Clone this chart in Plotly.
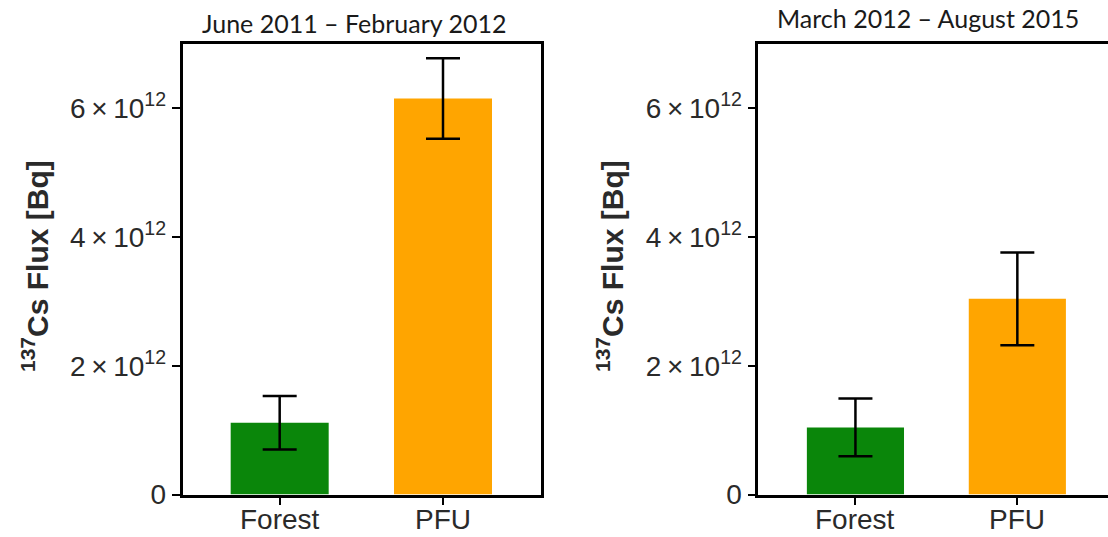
import plotly.graph_objects as go

# ---- data ----
categories = ["Forest", "PFU"]
panel_titles = ["June 2011 – February 2012", "March 2012 – August 2015"]
flux_2011_2012 = [1.115e12, 6.152e12]
err_2011_2012 = [0.414e12, 0.625e12]
flux_2012_2015 = [1.043e12, 3.040e12]
err_2012_2015 = [0.447e12, 0.720e12]
bar_colors = ["#0a860a", "#ffa500"]
y_tickvals = [0, 2e12, 4e12, 6e12]
y_ticktext = ["0", "2\u2009×\u200910<sup>12</sup>", "4\u2009×\u200910<sup>12</sup>", "6\u2009×\u200910<sup>12</sup>"]
y_title = "<b><sup>137</sup>Cs Flux [Bq]</b>"

W, H = 1108, 537
def px(x):
    return x / W
def py(y):
    return 1 - y / H

TICKFONT = dict(family="Liberation Sans, Arial, sans-serif", size=28, color="#2a2a2a")

fig = go.Figure()
fig.add_trace(go.Bar(
    x=categories, y=flux_2011_2012, width=0.6,
    marker=dict(color=bar_colors, line=dict(width=0)),
    error_y=dict(type="data", array=err_2011_2012, color="black", thickness=2.5, width=17),
    xaxis="x", yaxis="y", showlegend=False,
))
fig.add_trace(go.Bar(
    x=categories, y=flux_2012_2015, width=0.6,
    marker=dict(color=bar_colors, line=dict(width=0)),
    error_y=dict(type="data", array=err_2012_2015, color="black", thickness=2.5, width=17),
    xaxis="x2", yaxis="y2", showlegend=False,
))

ydom = [py(494.5), py(44)]
common_x = dict(type="category", showline=True, linecolor="black", linewidth=2.5,
                ticks="outside", ticklen=8, tickwidth=2, tickcolor="black",
                showticklabels=False, showgrid=False, zeroline=False, fixedrange=True,
                automargin=False)
common_y = dict(range=[0, 7.0e12], showline=True, linecolor="black", linewidth=2.5,
                ticks="outside", ticklen=8, tickwidth=2, tickcolor="black",
                tickvals=y_tickvals, ticktext=y_ticktext, tickfont=TICKFONT,
                showgrid=False, zeroline=False, fixedrange=True, automargin=False)

fig.update_layout(
    width=W, height=H,
    margin=dict(l=0, r=0, t=0, b=0, autoexpand=False),
    paper_bgcolor="white", plot_bgcolor="white",
    bargap=0.4,
    xaxis=dict(common_x, domain=[px(182.5), px(541)], range=[-0.595, 1.6], mirror=True, anchor="y"),
    yaxis=dict(common_y, domain=ydom, mirror=True, anchor="x"),
    xaxis2=dict(common_x, domain=[px(758.3), 1.0], range=[-0.6, 1.56], mirror=True, anchor="y2"),
    yaxis2=dict(common_y, domain=ydom, mirror=False, anchor="x2"),
)

# category labels placed just under each axis (same categories as the bars)
for xref in ("x", "x2"):
    for cat in categories:
        fig.add_annotation(text=cat, x=cat, xref=xref, y=py(519.5), yref="paper",
                           xanchor="center", yanchor="middle", showarrow=False, font=TICKFONT)

TITLEFONT = dict(family="Lato, Open Sans, sans-serif", size=25, color="#1a1a1a")
fig.add_annotation(text=panel_titles[0], x=px(354), y=py(23), xref="paper", yref="paper",
                   xanchor="center", yanchor="middle", showarrow=False, font=TITLEFONT)
fig.add_annotation(text=panel_titles[1], x=px(928), y=py(18), xref="paper", yref="paper",
                   xanchor="center", yanchor="middle", showarrow=False, font=TITLEFONT)

YTFONT = dict(family="Liberation Sans, Arial, sans-serif", size=30, color="#2a2a2a")
for xc in (35, 610):
    fig.add_annotation(text=y_title, x=px(xc), y=py(266), xref="paper", yref="paper",
                       xanchor="center", yanchor="middle", textangle=-90, showarrow=False,
                       font=YTFONT)

fig.write_html("out.html", config={"displayModeBar": False},
               post_script="document.body.style.margin='0';document.body.style.overflow='hidden';")
